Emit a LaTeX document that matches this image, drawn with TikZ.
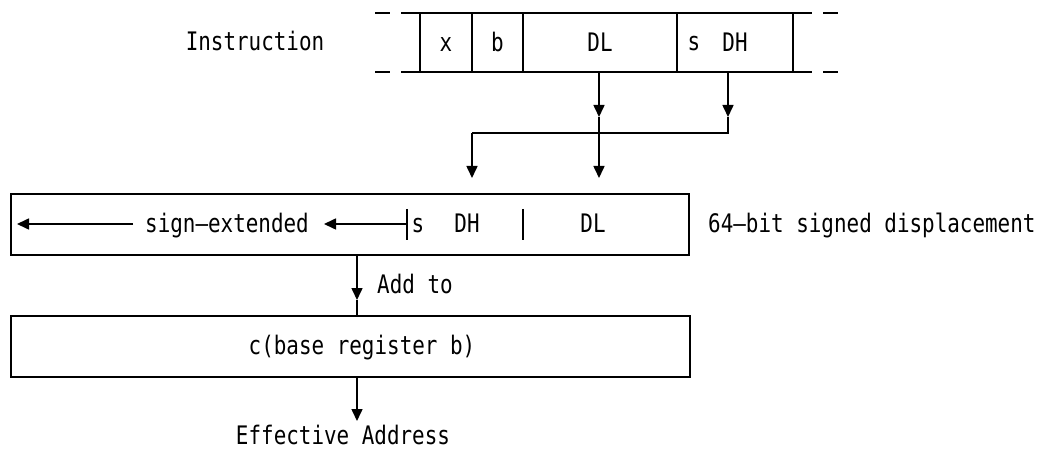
\documentclass[tikz,border=0pt]{standalone}
\usepackage{fontspec}
\newfontfamily\diagfont[FakeStretch=0.82]{DejaVu Sans Mono}
\usetikzlibrary{arrows.meta}
\tikzset{
  ln/.style={line width=1.6pt},
  arr/.style={ln,-{Triangle[width=11pt,length=12pt]}},
  fld/.style={draw,ln,inner sep=0pt,minimum height=59pt},
  bx/.style={draw,ln,inner sep=0pt,minimum height=61pt,minimum width=678pt},
  txt/.style={inner sep=0pt,font=\diagfont\fontsize{25.5}{25.5}\selectfont,text height=18pt,text depth=0pt},
}
\begin{document}
\begin{tikzpicture}[x=1pt,y=-1pt]
\useasboundingbox (0,0) rectangle (1047,449);
% instruction format
\node[txt] (ilab) at (255,42) {Instruction};
\node[fld,minimum width=52pt] (fx) at (446,42.5) {};
\node[fld,minimum width=51pt] (fb) at (497.5,42.5) {};
\node[fld,minimum width=154pt] (fdl) at (600,42.5) {};
\node[fld,minimum width=116pt] (fdh) at (735,42.5) {};
\node[txt] at (fx) {x};
\node[txt] at (fb) {b};
\node[txt] (tdl) at (fdl) {DL};
\node[txt] (tdh) at (fdh) {DH};
\node[txt] (ts) at (694,42) {s};
\coordinate (tl) at (401,13); \coordinate (tr) at (812,13);
\coordinate (bl) at (401,72); \coordinate (br) at (812,72);
\draw[ln] (tl) -- (tr) (bl) -- (br);
\draw[ln] (375,13) -- (390,13) (823,13) -- (838,13);
\draw[ln] (375,72) -- (390,72) (823,72) -- (838,72);
% arrows from fields
\coordinate (dlo) at (599,72);
\coordinate (dhio) at (728,72);
\coordinate (dl1) at (599,117);
\coordinate (dh1) at (728,117);
\coordinate (dhc) at (728,133);
\coordinate (dhl) at (472,133);
\coordinate (dl2) at (599,178);
\coordinate (dh2) at (472,178);
\draw[arr] (dlo) -- (dl1);
\draw[arr] (dhio) -- (dh1);
\draw[arr] (dl1) -- (dl2);
\draw[ln] (dh1) -- (dhc) -- (dhl);
\draw[arr] (dhl) -- (dh2);
% displacement box
\node[bx] (mid) at (350,224.5) {};
\node[txt] (sext) at (227,224) {sign{\textendash}extended};
\coordinate (a1s) at (133,224); \coordinate (a1e) at (17,224);
\coordinate (a2s) at (407,224); \coordinate (a2e) at (324,224);
\draw[arr] (a1s) -- (a1e);
\draw[arr] (a2s) -- (a2e);
\draw[ln] (407,209) -- (407,240);
\draw[ln] (523,209) -- (523,240);
\node[txt] (ms) at (418,224) {s};
\node[txt] (mdh) at (467,224) {DH};
\node[txt] (mdl) at (593,224) {DL};
\node[txt,anchor=west] (disp) at (708,224) {64{\textendash}bit signed displacement};
% add to
\coordinate (m1) at (357,255);
\coordinate (m2) at (357,300);
\coordinate (m3) at (357,316);
\draw[arr] (m1) -- (m2);
\draw[ln] (m2) -- (m3);
\node[txt,anchor=west] (addto) at (377,285) {Add to};
% base register box
\node[bx,minimum width=679pt] (base) at (350.5,346.5) {};
\node[txt] (tbase) at (362,345) {c(base register b)};
\coordinate (b1) at (357,377);
\coordinate (b2) at (357,421);
\draw[arr] (b1) -- (b2);
\node[txt] (ea) at (343,435.5) {Effective Address};
\end{tikzpicture}
\end{document}
